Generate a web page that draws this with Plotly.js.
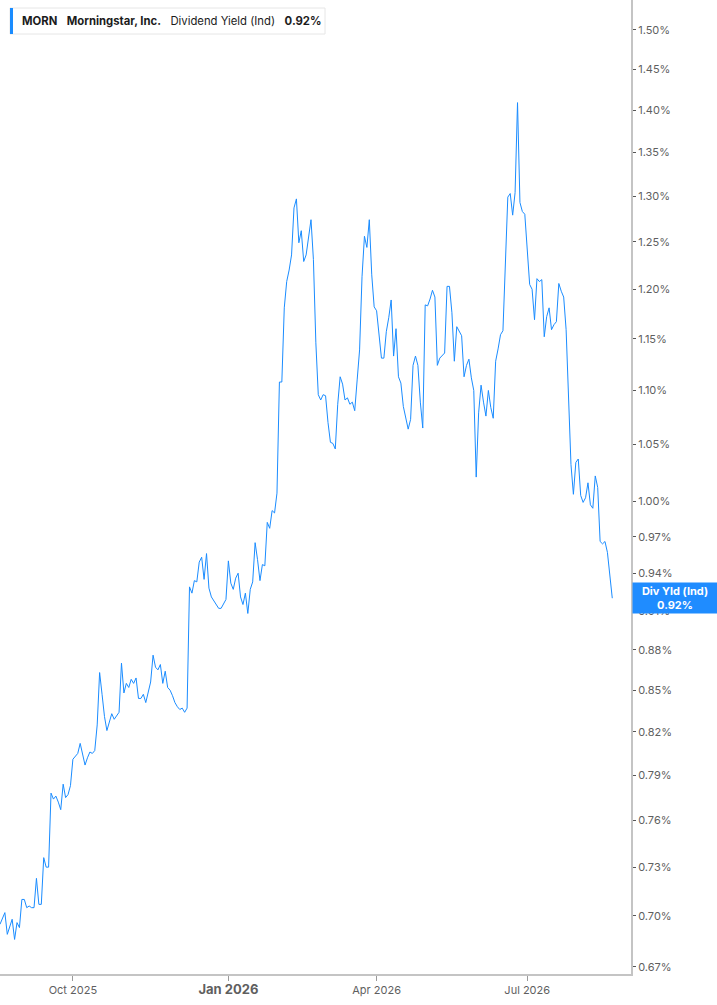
<!DOCTYPE html>
<html>
<head>
<meta charset="utf-8">
<script src="https://cdn.plot.ly/plotly-3.0.1.min.js"></script>
<style>
  html, body { margin: 0; padding: 0; background: #fff; }
  #chart { width: 717px; height: 1005px; }
</style>
</head>
<body>
<div id="chart"></div>
<script>
    // --- DATA: daily dividend yield (%), trading days only ---
    const tradeDates = [
        '2025-08-19','2025-08-21','2025-08-22','2025-08-26','2025-08-27','2025-08-28','2025-08-29',
        '2025-09-02','2025-09-03','2025-09-04','2025-09-05','2025-09-08','2025-09-09','2025-09-10',
        '2025-09-11','2025-09-12','2025-09-15','2025-09-16','2025-09-17','2025-09-18','2025-09-19',
        '2025-09-22','2025-09-23','2025-09-24','2025-09-25','2025-09-26','2025-09-29','2025-09-30',
        '2025-10-01','2025-10-02','2025-10-03','2025-10-06','2025-10-07','2025-10-08','2025-10-09',
        '2025-10-10','2025-10-13','2025-10-14','2025-10-15','2025-10-16','2025-10-17','2025-10-20',
        '2025-10-21','2025-10-22','2025-10-23','2025-10-24','2025-10-27','2025-10-28','2025-10-29',
        '2025-10-30','2025-10-31','2025-11-03','2025-11-04','2025-11-05','2025-11-06','2025-11-07',
        '2025-11-10','2025-11-11','2025-11-12','2025-11-13','2025-11-14','2025-11-17','2025-11-18',
        '2025-11-19','2025-11-20','2025-11-21','2025-11-24','2025-11-25','2025-11-26','2025-11-28',
        '2025-12-01','2025-12-02','2025-12-03','2025-12-04','2025-12-05','2025-12-08','2025-12-09',
        '2025-12-10','2025-12-11','2025-12-12','2025-12-15','2025-12-16','2025-12-17','2025-12-18',
        '2025-12-19','2025-12-22','2025-12-23','2025-12-24','2025-12-26','2025-12-29','2025-12-30',
        '2025-12-31','2026-01-02','2026-01-05','2026-01-06','2026-01-07','2026-01-08','2026-01-09',
        '2026-01-12','2026-01-13','2026-01-14','2026-01-15','2026-01-16','2026-01-20','2026-01-21',
        '2026-01-22','2026-01-23','2026-01-26','2026-01-27','2026-01-28','2026-01-29','2026-01-30',
        '2026-02-02','2026-02-03','2026-02-04','2026-02-05','2026-02-06','2026-02-09','2026-02-10',
        '2026-02-11','2026-02-12','2026-02-13','2026-02-17','2026-02-18','2026-02-19','2026-02-20',
        '2026-02-23','2026-02-24','2026-02-25','2026-02-26','2026-02-27','2026-03-02','2026-03-03',
        '2026-03-04','2026-03-05','2026-03-06','2026-03-09','2026-03-10','2026-03-11','2026-03-12',
        '2026-03-13','2026-03-16','2026-03-17','2026-03-18','2026-03-19','2026-03-20','2026-03-23',
        '2026-03-24','2026-03-25','2026-03-26','2026-03-27','2026-03-30','2026-03-31','2026-04-01',
        '2026-04-02','2026-04-06','2026-04-07','2026-04-08','2026-04-09','2026-04-10','2026-04-13',
        '2026-04-14','2026-04-15','2026-04-16','2026-04-17','2026-04-20','2026-04-21','2026-04-22',
        '2026-04-23','2026-04-24','2026-04-27','2026-04-28','2026-04-29','2026-04-30','2026-05-01',
        '2026-05-04','2026-05-05','2026-05-06','2026-05-07','2026-05-08','2026-05-11','2026-05-12',
        '2026-05-13','2026-05-14','2026-05-15','2026-05-18','2026-05-19','2026-05-20','2026-05-21',
        '2026-05-22','2026-05-26','2026-05-27','2026-05-28','2026-05-29','2026-06-01','2026-06-02',
        '2026-06-03','2026-06-04','2026-06-05','2026-06-08','2026-06-09','2026-06-10','2026-06-11',
        '2026-06-12','2026-06-15','2026-06-16','2026-06-17','2026-06-18','2026-06-22','2026-06-23',
        '2026-06-24','2026-06-25','2026-06-26','2026-06-29','2026-06-30','2026-07-01','2026-07-02',
        '2026-07-06','2026-07-07','2026-07-08','2026-07-09','2026-07-10','2026-07-13','2026-07-14',
        '2026-07-15','2026-07-16','2026-07-17','2026-07-20','2026-07-21','2026-07-22','2026-07-23',
        '2026-07-24','2026-07-27','2026-07-28','2026-07-29','2026-07-30','2026-07-31','2026-08-03',
        '2026-08-04','2026-08-05','2026-08-06','2026-08-07','2026-08-10','2026-08-11','2026-08-12',
        '2026-08-13','2026-08-14','2026-08-17','2026-08-18','2026-08-19','2026-08-20'
    ];

    const divYield = [
        0.695, 0.702, 0.689, 0.698, 0.686, 0.696, 0.693,
        0.710, 0.710, 0.705, 0.706, 0.705, 0.705, 0.723,
        0.707, 0.707, 0.736, 0.730, 0.730, 0.778, 0.774,
        0.776, 0.772, 0.767, 0.784, 0.775, 0.777, 0.783,
        0.801, 0.803, 0.805, 0.812, 0.804, 0.797, 0.802,
        0.806, 0.805, 0.807, 0.825, 0.863, 0.847, 0.831,
        0.821, 0.827, 0.833, 0.829, 0.832, 0.834, 0.870,
        0.848, 0.855, 0.852, 0.858, 0.855, 0.859, 0.844,
        0.844, 0.847, 0.841, 0.849, 0.856, 0.876, 0.867,
        0.865, 0.869, 0.855, 0.864, 0.852, 0.850, 0.846,
        0.841, 0.838, 0.836, 0.837, 0.834, 0.837, 0.929,
        0.924, 0.934, 0.933, 0.949, 0.953, 0.935, 0.956,
        0.928, 0.921, 0.918, 0.915, 0.912, 0.912, 0.916,
        0.919, 0.950, 0.932, 0.927, 0.936, 0.940, 0.921,
        0.915, 0.924, 0.908, 0.927, 0.933, 0.965, 0.951,
        0.934, 0.947, 0.946, 0.982, 0.977, 0.992, 0.990,
        1.007, 1.108, 1.108, 1.181, 1.208, 1.220, 1.236,
        1.287, 1.297, 1.249, 1.262, 1.229, 1.236, 1.255,
        1.274, 1.231, 1.146, 1.096, 1.091, 1.096, 1.095,
        1.070, 1.052, 1.051, 1.046, 1.087, 1.113, 1.106,
        1.091, 1.093, 1.087, 1.089, 1.081, 1.110, 1.139,
        1.213, 1.256, 1.244, 1.274, 1.215, 1.182, 1.178,
        1.156, 1.131, 1.131, 1.157, 1.171, 1.189, 1.133,
        1.160, 1.113, 1.107, 1.085, 1.073, 1.064, 1.073,
        1.124, 1.133, 1.124, 1.089, 1.065, 1.184, 1.183,
        1.190, 1.199, 1.192, 1.124, 1.131, 1.134, 1.136,
        1.203, 1.203, 1.176, 1.128, 1.162, 1.158, 1.153,
        1.113, 1.124, 1.130, 1.112, 1.100, 1.021, 1.079,
        1.105, 1.089, 1.076, 1.100, 1.084, 1.074, 1.128,
        1.140, 1.154, 1.158, 1.228, 1.299, 1.303, 1.279,
        1.304, 1.409, 1.293, 1.283, 1.280, 1.238, 1.205,
        1.200, 1.169, 1.211, 1.208, 1.210, 1.152, 1.172,
        1.181, 1.159, 1.164, 1.167, 1.206, 1.198, 1.192,
        1.159, 1.089, 1.032, 1.006, 1.034, 1.037, 1.005,
        0.999, 1.003, 1.016, 0.997, 0.994, 1.022, 1.012,
        0.966, 0.964, 0.966, 0.957, 0.937, 0.920
    ];

    // market closed days (skipped on the time axis)
    const marketHolidays = [
        '2025-09-01','2025-11-27','2025-12-25','2026-01-01','2026-01-19',
        '2026-02-16','2026-04-03','2026-05-25','2026-06-19','2026-07-03'
    ];

    const yTickVals = [0.67, 0.70, 0.73, 0.76, 0.79, 0.82, 0.85, 0.88, 0.91, 0.94, 0.97,
                       1.00, 1.05, 1.10, 1.15, 1.20, 1.25, 1.30, 1.35, 1.40, 1.45, 1.50];
    const yTickText = yTickVals.map(v => v.toFixed(2) + '%');

    const xTickVals = ['2025-10-01', '2026-01-02', '2026-04-01', '2026-07-01'];
    const xTickText = ['Oct 2025', '<span style="font-size:13px"><b>Jan 2026</b></span>', 'Apr 2026', 'Jul 2026'];

    const lastValue = divYield[divYield.length - 1];

    // --- STYLE ---
    const colors = {
        line: '#1a8cff',
        tag: '#1f8cff',
        axis: '#c4c4c4',
        tick: '#5f5f5f',
        text: '#1c1c1c'
    };

    const trace = {
        type: 'scatter',
        mode: 'lines',
        x: tradeDates,
        y: divYield,
        line: { color: colors.line, width: 1 },
        hoverinfo: 'skip'
    };

    const sp = '\u00a0\u00a0\u00a0';
    const PW = 631, PH = 974;   // plot area in px, for the legend chip

    const layout = {
        width: 717,
        height: 1005,
        margin: { l: 0, r: 86, t: 0, b: 31 },
        paper_bgcolor: '#fff',
        plot_bgcolor: '#fff',
        showlegend: false,
        font: { family: 'Inter, Roboto, sans-serif', color: colors.tick },
        xaxis: {
            type: 'date',
            range: ['2025-08-19', '2026-08-31 17:00'],
            rangebreaks: [
                { bounds: ['sat', 'mon'] },
                { values: marketHolidays }
            ],
            tickvals: xTickVals,
            ticktext: xTickText,
            ticks: 'outside',
            ticklen: 5,
            tickwidth: 1,
            tickcolor: '#9a9a9a',
            tickfont: { size: 11, color: colors.tick },
            showline: true,
            linecolor: colors.axis,
            linewidth: 2,
            showgrid: false,
            zeroline: false
        },
        yaxis: {
            type: 'log',
            side: 'right',
            range: [Math.log10(0.6659), Math.log10(1.539)],
            tickvals: yTickVals,
            ticktext: yTickText,
            ticks: 'outside',
            ticklen: 3,
            tickwidth: 1,
            tickcolor: '#555',
            tickfont: { size: 11, color: colors.tick },
            showline: true,
            linecolor: colors.axis,
            linewidth: 2,
            showgrid: false,
            zeroline: false
        },
        shapes: [
            // legend chip box
            {
                type: 'rect', xref: 'paper', yref: 'paper',
                x0: 10 / PW, x1: 325 / PW, y0: 1 - 34 / PH, y1: 1 - 8 / PH,
                fillcolor: '#fff', line: { color: '#e6e6e6', width: 1 }
            },
            // blue accent bar on the chip
            {
                type: 'rect', xref: 'paper', yref: 'paper',
                x0: 10 / PW, x1: 13 / PW, y0: 1 - 34 / PH, y1: 1 - 8 / PH,
                fillcolor: colors.line, line: { width: 0 }
            }
        ],
        annotations: [
            {
                xref: 'paper', yref: 'paper',
                x: 20 / PW, y: 1 - 21 / PH,
                xanchor: 'left', yanchor: 'middle',
                showarrow: false,
                text: '<b>MORN</b>' + sp + '<b>Morningstar, Inc.</b>' + sp + 'Dividend Yield (Ind)' + sp + '<b>' + lastValue.toFixed(2) + '%</b>',
                font: { size: 11.3, color: colors.text, family: 'Inter, sans-serif' }
            },
            {
                xref: 'paper', yref: 'y',
                x: 1, y: Math.log10(lastValue),
                xanchor: 'left', yanchor: 'middle',
                xshift: 1,
                showarrow: false,
                text: '<b>Div Yld (Ind)</b><br><b>' + lastValue.toFixed(2) + '%</b>',
                font: { size: 11, color: '#fff', family: 'Inter, sans-serif' },
                align: 'center',
                width: 82,
                bgcolor: colors.tag,
                borderpad: 1
            }
        ]
    };

    Plotly.newPlot('chart', [trace], layout, { displayModeBar: false, staticPlot: true });
</script>
</body>
</html>
